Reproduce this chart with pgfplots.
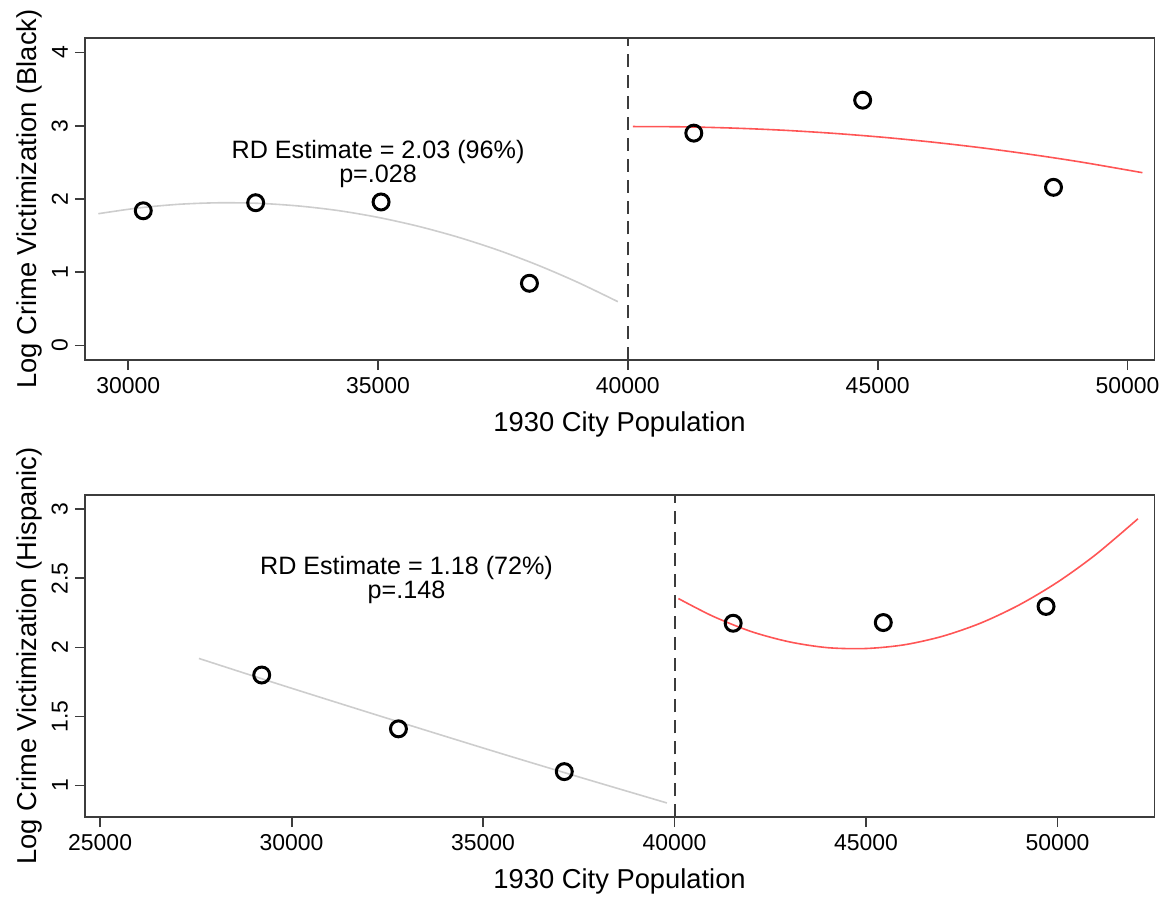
\documentclass[border=0pt]{standalone}
\usepackage{pgfplots}
\pgfplotsset{compat=1.18}
\usepackage{fontspec}
\setmainfont{Liberation Sans}
\definecolor{fitgray}{RGB}{205,205,205}
\definecolor{fitred}{RGB}{255,85,85}
\definecolor{framegray}{RGB}{60,60,60}
\pgfplotsset{rdstyle/.style={
  scale only axis, width=536pt, height=161.5pt,
  axis line style={framegray, line width=0.9pt},
  tick style={framegray, line width=0.9pt},
  tick align=outside, major tick length=5pt,
  xtick pos=left, ytick pos=left,
  scaled x ticks=false, scaled y ticks=false,
  /pgf/number format/assume math mode=true,
  /pgf/number format/set thousands separator={},
  tick label style={font=\fontsize{11.5}{13}\selectfont, text=black},
  yticklabel style={rotate=90, anchor=south},
  every axis x label/.style={at={(axis description cs:0.5,0)}, yshift=-32pt, anchor=center, font=\fontsize{13.7}{16}\selectfont},
  every axis y label/.style={at={(axis description cs:0,0.5)}, xshift=-27.5pt, rotate=90, anchor=center, font=\fontsize{13.7}{16}\selectfont},
  xlabel={1930 City Population},
  clip=false,
}}
\begin{document}
\begin{tikzpicture}
% ---------- Top panel: Black ----------
\begin{axis}[rdstyle, at={(0,0)},
  xmin=29130, xmax=50540, ymin=-0.2, ymax=4.2,
  xtick={30000,35000,40000,45000,50000}, ytick={0,1,2,3,4},
  ylabel={Log Crime Victimization (Black)}]
\addplot[fitgray, line width=0.8pt, smooth] coordinates {
 (29400,1.800) (30200,1.878) (31000,1.928) (31800,1.949) (32600,1.942)
 (33400,1.906) (34200,1.843) (35000,1.750) (35800,1.629) (36600,1.480)
 (37400,1.303) (38200,1.097) (39000,0.862) (39800,0.599)};
\addplot[fitred, line width=0.8pt, smooth] coordinates {
 (40100,2.990) (41100,2.986) (42100,2.969) (43100,2.940) (44100,2.898)
 (45100,2.844) (46100,2.777) (47100,2.698) (48100,2.606) (49100,2.502)
 (50300,2.360)};
\addplot[framegray, line width=1pt, dash pattern=on 6.5pt off 4pt] coordinates {(40000,-0.2) (40000,4.2)};
\addplot[only marks, mark=o, mark size=4pt, line width=1.5pt, black] coordinates {
 (30300,1.84) (32550,1.95) (35060,1.96) (38030,0.85)
 (41320,2.90) (44700,3.35) (48520,2.16)};
\node[align=center, font=\fontsize{12.6}{12}\selectfont] at (axis cs:35000,2.48)
 {RD Estimate = 2.03 (96\%)\\p=.028};
\end{axis}
% ---------- Bottom panel: Hispanic ----------
\begin{axis}[rdstyle, at={(0,-229pt)},
  xmin=24600, xmax=52530, ymin=0.77, ymax=3.105,
  xtick={25000,30000,35000,40000,45000,50000}, ytick={1,1.5,2,2.5,3},
  ylabel={Log Crime Victimization (Hispanic)}]
\addplot[fitgray, line width=0.8pt, smooth] coordinates {
 (27580,1.920) (29580,1.741) (31580,1.566) (33580,1.393) (35580,1.222)
 (37580,1.055) (39800,0.873)};
\addplot[fitred, line width=0.8pt, smooth] coordinates {
 (40100,2.354) (41000,2.226) (42000,2.115) (43000,2.040) (44000,1.998)
 (45000,1.992) (46000,2.019) (47000,2.081) (48000,2.177) (49000,2.308)
 (50000,2.473) (51000,2.673) (52100,2.932)};
\addplot[framegray, line width=1pt, dash pattern=on 6.5pt off 4pt] coordinates {(40000,0.77) (40000,3.105)};
\addplot[only marks, mark=o, mark size=4pt, line width=1.5pt, black] coordinates {
 (29220,1.80) (32790,1.41) (37120,1.10)
 (41530,2.175) (45450,2.18) (49700,2.297)};
\node[align=center, font=\fontsize{12.6}{12}\selectfont] at (axis cs:33000,2.49)
 {RD Estimate = 1.18 (72\%)\\p=.148};
\end{axis}
\path (-42.5pt,180.5pt) rectangle (540.5pt,-269pt);
\end{tikzpicture}
\end{document}
